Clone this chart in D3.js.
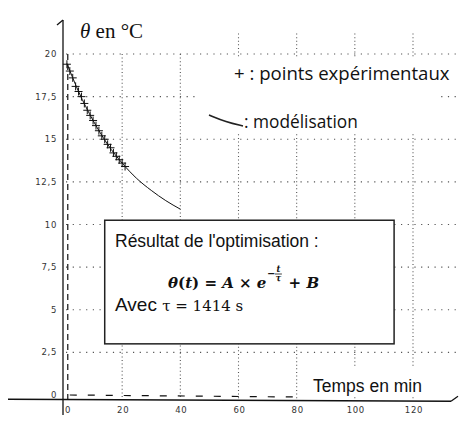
<!DOCTYPE html>
<html>
<head>
  <title>Refroidissement</title>
</head>
<style>
  body { margin: 0; background: #fff; }
  .grid-h { stroke: #555; stroke-width: 1.1; stroke-dasharray: 1.2,5.5; }
  .grid-v { stroke: #555; stroke-width: 1.1; stroke-dasharray: 1,2.6; }
  .tick { font-family: "DejaVu Sans", sans-serif; font-size: 8.5px; fill: #333; letter-spacing: 0.7px; }
</style>
<body>
  <script src="https://d3js.org/d3.v7.min.js"></script>
  <script>
    // data
    const xTicks = [0, 20, 40, 60, 80, 100, 120];
    const xTickLabels = ["0", "20", "40", "60", "80", "100", "120"];
    const yTicks = [0, 2.5, 5, 7.5, 10, 12.5, 15, 17.5, 20];
    const yTickLabels = ["0", "2,5", "5", "7,5", "10", "12,5", "15", "17,5", "20"];

    // experimental points (min, °C)
    const expT = [1, 2, 3, 4, 5, 6, 7, 8, 9, 10, 11, 12, 13, 14, 15, 16, 17, 18, 19, 20, 21];
    const expTheta = [19.4, 19.0, 18.6, 18.1, 17.8, 17.5, 17.1, 16.7, 16.4, 16.1, 15.8,
                      15.5, 15.2, 15.0, 14.7, 14.5, 14.2, 14.0, 13.8, 13.6, 13.4];

    // model curve (min, °C)
    const modelT = [1, 5, 10, 15, 20, 25, 30, 35, 40];
    const modelTheta = [19.45, 17.8, 16.1, 14.7, 13.6, 12.7, 12.0, 11.4, 10.9];

    // dashed reference lines
    const refT = [1.3, 80];
    const refTheta = [0, 20];

    const w = 465;
    const h = 423;

    const x = d3.scaleLinear().domain([0, 120]).range([64, 413]);
    const y = d3.scaleLinear().domain([0, 20]).range([395, 54]);

    const svg = d3.select("body")
                  .append("svg")
                  .attr("width", w)
                  .attr("height", h)

    // horizontal grid
    svg.append("g")
       .selectAll("line")
       .data(yTicks.slice(1))
       .join("line")
       .attr("class", "grid-h")
       .attr("x1", x(0) + 2)
       .attr("x2", 458)
       .attr("y1", d => y(d))
       .attr("y2", d => y(d))

    // vertical grid
    svg.append("g")
       .selectAll("line")
       .data(xTicks.slice(1))
       .join("line")
       .attr("class", "grid-v")
       .attr("x1", d => x(d))
       .attr("x2", d => x(d))
       .attr("y1", d => d < 60 ? y(20) : y(21.2))
       .attr("y2", y(-0.2))

    // white patches behind the legend and the axis title
    svg.append("rect").attr("x", 200).attr("y", 57).attr("width", 236).attr("height", 76).attr("fill", "#fff")
    svg.append("rect").attr("x", 306).attr("y", 367).attr("width", 134).attr("height", 29).attr("fill", "#fff")

    // dashed lines
    svg.append("line")
       .attr("x1", x(refT[0])).attr("x2", x(refT[0]))
       .attr("y1", y(refTheta[1])).attr("y2", y(-0.4))
       .attr("stroke", "#111").attr("stroke-width", 1.2).attr("stroke-dasharray", "6,4")
    svg.append("line")
       .attr("x1", x(refT[0]) + 2).attr("x2", x(refT[1]))
       .attr("y1", y(refTheta[0])).attr("y2", y(refTheta[0]) + 2)
       .attr("stroke", "#111").attr("stroke-width", 1.2).attr("stroke-dasharray", "7,11")

    // axes
    svg.append("line")
       .attr("x1", x(0) - 1).attr("x2", x(0) - 1)
       .attr("y1", 415).attr("y2", 20)
       .attr("stroke", "#111").attr("stroke-width", 1.3)
    svg.append("path")
       .attr("d", d3.line()([[x(0) - 7, 25], [x(0) - 1, 20]]))
       .attr("stroke", "#111").attr("stroke-width", 1.3).attr("fill", "none")
    svg.append("line")
       .attr("x1", 8).attr("x2", 451)
       .attr("y1", y(-0.25)).attr("y2", y(-0.25) + 2)
       .attr("stroke", "#111").attr("stroke-width", 1.3)
    svg.append("path")
       .attr("d", d3.line()([[451, y(-0.25) + 2], [458, y(-0.25) - 3]]))
       .attr("stroke", "#111").attr("stroke-width", 1.3).attr("fill", "none")

    // tick labels
    svg.append("g")
       .selectAll("text")
       .data(yTicks)
       .join("text")
       .attr("class", "tick")
       .attr("x", 57)
       .attr("y", d => y(d) + 3)
       .attr("text-anchor", "end")
       .text((d, i) => yTickLabels[i])
    svg.append("g")
       .selectAll("text")
       .data(xTicks)
       .join("text")
       .attr("class", "tick")
       .attr("x", d => x(d) + 1)
       .attr("y", 413)
       .attr("text-anchor", d => d == 0 ? "start" : "middle")
       .text((d, i) => xTickLabels[i])

    // model curve
    svg.append("path")
       .datum(modelT.map((t, i) => [t, modelTheta[i]]))
       .attr("d", d3.line().x(d => x(d[0])).y(d => y(d[1])).curve(d3.curveMonotoneX))
       .attr("fill", "none")
       .attr("stroke", "#111")
       .attr("stroke-width", 1)

    // experimental points
    svg.append("g")
       .selectAll("path")
       .data(expT.map((t, i) => [t, expTheta[i]]))
       .join("path")
       .attr("d", d => {
         const cx = x(d[0]), cy = y(d[1]), r = 4;
         return "M" + (cx - r) + "," + cy + "H" + (cx + r) + "M" + cx + "," + (cy - r) + "V" + (cy + r);
       })
       .attr("stroke", "#111")
       .attr("stroke-width", 1)

    // y title
    const yTitle = svg.append("text")
       .attr("x", 80).attr("y", 38)
       .attr("font-family", "Liberation Serif, serif")
       .attr("font-size", 21)
       .attr("fill", "#111")
    yTitle.append("tspan").attr("font-style", "italic").text("θ")
    yTitle.append("tspan").text(" en °C")

    // x title
    svg.append("text")
       .attr("x", 313).attr("y", 392)
       .attr("font-family", "Liberation Sans, Arial, sans-serif")
       .attr("font-size", 17.5)
       .attr("fill", "#111")
       .text("Temps en min")

    // legend
    svg.append("text")
       .attr("x", 234).attr("y", 80)
       .attr("font-family", "Open Sans, sans-serif")
       .attr("font-size", 18.6)
       .attr("fill", "#111")
       .text("+ : points expérimentaux")
    svg.append("path")
       .attr("d", d3.line().curve(d3.curveBasis)([[209, 115], [226, 122], [243, 126]]))
       .attr("fill", "none").attr("stroke", "#222").attr("stroke-width", 1.6)
    svg.append("text")
       .attr("x", 244).attr("y", 128)
       .attr("font-family", "Open Sans, sans-serif")
       .attr("font-size", 17.3)
       .attr("fill", "#111")
       .text(": modélisation")

    // result box
    svg.append("rect")
       .attr("x", x(14)).attr("y", y(10.25))
       .attr("width", x(113.5) - x(14)).attr("height", y(3) - y(10.25))
       .attr("fill", "#fff").attr("stroke", "#222").attr("stroke-width", 1.5)

    svg.append("text")
       .attr("x", 115).attr("y", 247)
       .attr("font-family", "Liberation Sans, Arial, sans-serif")
       .attr("font-size", 17.5)
       .attr("fill", "#111")
       .text("Résultat de l'optimisation :")

    const f = svg.append("text")
       .attr("x", 168).attr("y", 288)
       .attr("font-family", "DejaVu Serif, serif")
       .attr("font-size", 15)
       .attr("font-weight", "bold")
       .attr("fill", "#111")
    f.append("tspan").attr("font-style", "italic").text("θ")
    f.append("tspan").text("(")
    f.append("tspan").attr("font-style", "italic").text("t")
    f.append("tspan").text(") = ")
    f.append("tspan").attr("font-style", "italic").text("A")
    f.append("tspan").text(" × ")
    f.append("tspan").attr("font-style", "italic").text("e")
    f.append("tspan").attr("dx", 17).text(" + ")
    f.append("tspan").attr("font-style", "italic").text("B")

    // exponent  -t/τ
    const ex = 168 + f.node().getSubStringLength(0, 12);
    const exp = svg.append("g").attr("font-family", "DejaVu Serif, serif").attr("font-weight", "bold").attr("fill", "#111")
    exp.append("text").attr("x", ex + 0.5).attr("y", 277).attr("font-size", 10).text("−")
    exp.append("text").attr("x", ex + 12).attr("y", 272).attr("font-size", 8.5).attr("font-style", "italic").attr("text-anchor", "middle").text("t")
    exp.append("line").attr("x1", ex + 8.5).attr("x2", ex + 15.5).attr("y1", 274).attr("y2", 274).attr("stroke", "#111").attr("stroke-width", 0.8)
    exp.append("text").attr("x", ex + 12).attr("y", 281).attr("font-size", 8.5).attr("font-style", "italic").attr("text-anchor", "middle").text("τ")

    const a = svg.append("text")
       .attr("x", 115).attr("y", 311)
       .attr("fill", "#111")
    a.append("tspan").attr("font-family", "Liberation Sans, Arial, sans-serif").attr("font-size", 19).text("Avec ")
    a.append("tspan").attr("font-family", "DejaVu Serif, serif").attr("font-size", 15).text("τ = 1414 s")
  </script>
</body>
</html>
